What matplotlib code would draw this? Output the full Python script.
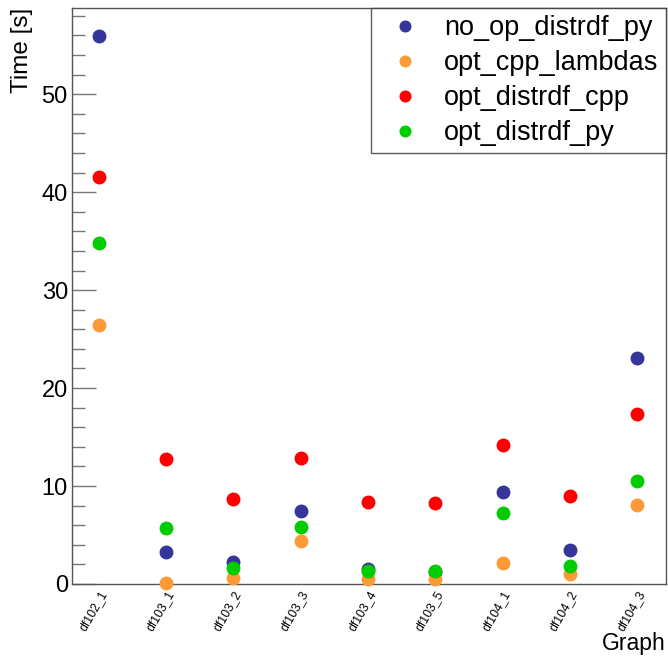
import matplotlib
matplotlib.use('Agg')
import matplotlib.pyplot as plt
from matplotlib.ticker import MultipleLocator

plt.rcParams['font.family'] = ['Liberation Sans', 'DejaVu Sans']

# benchmark names on the x axis
graphs = ['df102_1', 'df103_1', 'df103_2', 'df103_3', 'df103_4',
          'df103_5', 'df104_1', 'df104_2', 'df104_3']

# timings in seconds
no_op_distrdf_py = [55.9, 3.3, 2.2, 7.4, 1.5, 1.2, 9.4, 3.5, 23.1]
opt_cpp_lambdas = [26.4, 0.1, 0.6, 4.4, 0.5, 0.5, 2.1, 1.0, 8.1]
opt_distrdf_cpp = [41.5, 12.8, 8.7, 12.9, 8.4, 8.3, 14.2, 9.0, 17.4]
opt_distrdf_py = [34.8, 5.7, 1.6, 5.8, 1.3, 1.3, 7.2, 1.8, 10.5]

series = [
    ('no_op_distrdf_py', no_op_distrdf_py, '#35359a'),
    ('opt_cpp_lambdas', opt_cpp_lambdas, '#fd9a38'),
    ('opt_distrdf_cpp', opt_distrdf_cpp, '#fe0000'),
    ('opt_distrdf_py', opt_distrdf_py, '#00cc00'),
]

fig = plt.figure(figsize=(6.68, 6.56), dpi=100)
ax = fig.add_axes([0.1078, 0.1098, 0.8892, 0.878])

x = list(range(len(graphs)))
for name, vals, col in series:
    ax.plot(x, vals, linestyle='none', marker='o', markersize=9,
            color=col, label=name, clip_on=False, zorder=3)

ax.set_xlim(-0.40, 8.43)
ax.set_ylim(0, 58.8)

ax.set_xticks(x)
ax.set_xticklabels(graphs, rotation=60, ha='right', va='top',
                   rotation_mode='anchor', fontsize=8.8)
ax.tick_params(axis='x', length=0, pad=3)

ax.yaxis.set_major_locator(MultipleLocator(10))
ax.yaxis.set_minor_locator(MultipleLocator(2))
ax.tick_params(axis='y', which='major', direction='in', length=17,
               width=1, color='#777777', labelsize=17, pad=3)
ax.tick_params(axis='y', which='minor', direction='in', length=9,
               width=1, color='#777777')

for sp in ax.spines.values():
    sp.set_color('#555555')
    sp.set_linewidth(1)

ax.set_ylabel('Time [s]', fontsize=17.5, loc='top', labelpad=6)
ax.set_xlabel('Graph', fontsize=16.5, loc='right')
ax.xaxis.set_label_coords(1.0, -0.083)

leg = ax.legend(loc='upper right', borderaxespad=0, fontsize=19.5,
                frameon=True, fancybox=False, handletextpad=0.45,
                handlelength=2.0, labelspacing=0.33, borderpad=0.27,
                markerscale=0.85)
leg.get_frame().set_edgecolor('#333333')
leg.get_frame().set_linewidth(1)

fig.savefig('out.png', dpi=100)
